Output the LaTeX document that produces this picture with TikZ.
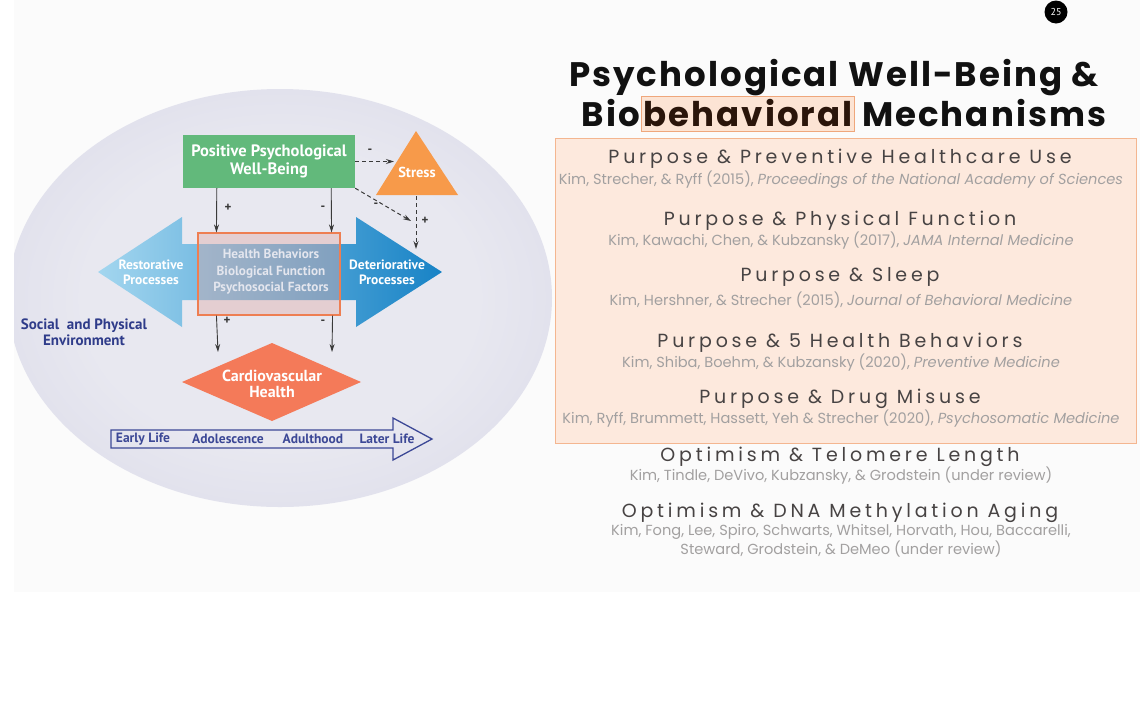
\documentclass[tikz,border=0pt]{standalone}
\usepackage{fontspec}
\setmainfont{Poppins}
\newfontfamily\diag{PT Sans}
\newfontfamily\ttlfont{Poppins}[LetterSpace=6]
\newfontfamily\hdfont{Poppins}[LetterSpace=20]
\newfontfamily\citfont{Poppins}
\usetikzlibrary{arrows.meta,calc}
\definecolor{slidebg}{HTML}{FBFBFB}
\definecolor{ellin}{HTML}{E8E8F0}
\definecolor{ellmid}{HTML}{D5D5E6}
\definecolor{ellout}{HTML}{BEBED7}
\definecolor{ellrim}{HTML}{D0D0E2}
\definecolor{pgreen}{HTML}{62B97B}
\definecolor{stressc}{HTML}{F79A4A}
\definecolor{coral}{HTML}{F47A59}
\definecolor{navy}{HTML}{2F3C8A}
\definecolor{tline}{HTML}{3C4896}
\definecolor{blueL}{HTML}{A3D6EF}
\definecolor{blueR}{HTML}{1883C6}
\definecolor{midborder}{HTML}{EE7E52}
\definecolor{midfill}{HTML}{E0A8A4}
\definecolor{midtext}{HTML}{E4E6EE}
\definecolor{arrowc}{HTML}{3A3A3A}
\definecolor{panelfill}{HTML}{FDE9DD}
\definecolor{panelborder}{HTML}{F4B690}
\definecolor{hlfill}{HTML}{FCE4D4}
\definecolor{hlborder}{HTML}{EFA77C}
\definecolor{hdcol}{HTML}{474343}
\definecolor{citcol}{HTML}{A2A0A0}
\definecolor{titlecol}{HTML}{111111}
\definecolor{hltext}{HTML}{2A150A}
\pgfdeclareradialshading{ellshade}{\pgfpoint{0bp}{0bp}}{color(0bp)=(ellin); color(18bp)=(ellin); color(40bp)=(ellmid); color(48bp)=(ellout); color(50bp)=(ellrim); color(70bp)=(ellrim)}
\tikzset{
  wlabel/.style={text=white, font=\diag\bfseries\fontsize{13.5}{15}\selectfont, align=center, inner sep=0},
  navylabel/.style={text=navy, font=\diag\bfseries\fontsize{15}{16.5}\selectfont, align=center, inner sep=0},
  tlabel/.style={text=tline, font=\diag\bfseries\fontsize{13.5}{15}\selectfont, inner sep=0},
  sign/.style={text=arrowc, font=\diag\bfseries\fontsize{13}{14}\selectfont, inner sep=0},
  solidarrow/.style={draw=arrowc, line width=0.9pt, -{Stealth[length=8pt,width=5pt]}},
  dasharrow/.style={draw=arrowc, line width=1pt, dash pattern=on 4pt off 3pt, -{Stealth[length=8pt,width=5pt]}},
  titletext/.style={text=titlecol, font=\ttlfont\bfseries\fontsize{34}{38}\selectfont, inner sep=0},
  headtext/.style={text=hdcol, font=\hdfont\fontsize{19}{21}\selectfont, inner sep=0},
  cittext/.style={text=citcol, font=\citfont\fontsize{14.6}{18.5}\selectfont, align=center, inner sep=0},
}
\begin{document}
\begin{tikzpicture}[x=1pt,y=-1pt]
\useasboundingbox (0,0) rectangle (1140,702);
\fill[white] (0,0) rectangle (1140,702);
\fill[slidebg] (14,0) rectangle (1140,592);
% ellipse background
\begin{scope}
  \clip (14,0) rectangle (1140,702);
  \shade[shading=ellshade] (280,298) ellipse [x radius=272, y radius=209];
\end{scope}
% badge
\node[circle, fill=black, minimum size=23pt, inner sep=0, text=white, font=\diag\fontsize{10}{11}\selectfont] (badge) at (1056,12) {25};

% ---------- left diagram ----------
\node[fill=pgreen, minimum width=172pt, minimum height=53pt, text=white, align=center,
      font=\diag\bfseries\fontsize{16.5}{18}\selectfont, inner sep=0] (ppwb) at (269,161.5) {Positive Psychological\\Well-Being};
\fill[stressc] (376,195) -- (416,131) -- (458,195) -- cycle;
\node[wlabel, font=\diag\bfseries\fontsize{14.5}{16}\selectfont] (stress) at (417,172) {Stress};
\coordinate (stressin) at (394,161.5);
\coordinate (stressbot) at (416,196);
\coordinate (vend) at (416,249);
\coordinate (diagend) at (411,221);

% double arrow
\path[left color=blueL, right color=blueR]
  (98,272) -- (182,217) -- (182,244) -- (356,244) -- (356,217) -- (442,272)
  -- (356,327) -- (356,300) -- (182,300) -- (182,327) -- cycle;
\node[wlabel] (rest) at (151,272) {Restorative\\Processes};
\node[wlabel] (det) at (387,272) {Deteriorative\\Processes};

% middle box
\node[draw=midborder, line width=1.1pt, fill=midfill, fill opacity=0.4, draw opacity=1,
      minimum width=142pt, minimum height=82pt, inner sep=0] (mid) at (269,274) {};
\node[text=midtext, font=\diag\bfseries\fontsize{13.2}{16.5}\selectfont, align=center, inner sep=0] (midtext) at (271,272)
  {Health Behaviors\\Biological Function\\Psychosocial Factors};

% diamond
\fill[coral] (272,343) -- (361,382) -- (272,421) -- (182,382) -- cycle;
\node[wlabel, font=\diag\bfseries\fontsize{16}{16}\selectfont] (cvh) at (272,384) {Cardiovascular\\Health};
\coordinate (cvhL) at (218,352);
\coordinate (cvhR) at (332,352);

% connectors
\draw[solidarrow] ([xshift=34pt]ppwb.south west) -- ([xshift=19pt]mid.north west);
\draw[solidarrow] ([xshift=-24pt]ppwb.south east) -- ([xshift=-9pt]mid.north east);
\draw[solidarrow] ([xshift=19pt]mid.south west) -- (cvhL);
\draw[solidarrow] ([xshift=-8pt]mid.south east) -- (cvhR);
\draw[dasharrow] (ppwb.east) -- (stressin);
\draw[dasharrow] (ppwb.south east) -- (diagend);
\draw[dasharrow] (stressbot) -- (vend);

\node[sign] at (228,208) {+};
\node[sign] at (323,208) {-};
\node[sign] at (227,321) {+};
\node[sign] at (323,322) {-};
\node[sign] at (370,151) {-};
\node[sign] at (376,205) {-};
\node[sign] at (425,221) {+};

% environment label
\node[navylabel] (env) at (84,332) {Social\ \ and Physical\\Environment};

% timeline
\draw[tline, line width=1.3pt, line join=miter]
  (111,430) -- (393,430) -- (393,418) -- (432,439) -- (393,460) -- (393,448) -- (111,448) -- cycle;
\node[tlabel] (early) at (143,439) {Early Life};
\node[tlabel] (adol) at (228,439) {Adolescence};
\node[tlabel] (adult) at (313,439) {Adulthood};
\node[tlabel] (later) at (387,439) {Later Life};

% ---------- right side ----------
\node[titletext] (t1) at (834,78) {Psychological Well-Being \&};
\node[titletext, fill=hlfill, draw=hlborder, line width=0.8pt, inner xsep=2pt, minimum height=35pt, text=hltext] (hb) at (748,113.5) {behavioral};
\node[titletext, anchor=base east] (bio) at ([xshift=-1pt]hb.base west) {Bio};
\node[titletext, anchor=base west] (mech) at ([xshift=7pt]hb.base east) {Mechanisms};

\node[draw=panelborder, fill=panelfill, line width=1pt, minimum width=581pt, minimum height=305pt, inner sep=0] (panel) at (845.5,290.5) {};

\node[headtext] (h1) at (840,159) {Purpose \& Preventive Healthcare Use};
\node[cittext] (c1) at (841,180) {Kim, Strecher, \& Ryff (2015), \textit{Proceedings of the National Academy of Sciences}};
\node[headtext] (h2) at (840,221) {Purpose \& Physical Function};
\node[cittext] (c2) at (841,241) {Kim, Kawachi, Chen, \& Kubzansky (2017), \textit{JAMA Internal Medicine}};
\node[headtext] (h3) at (840,277) {Purpose \& Sleep};
\node[cittext] (c3) at (841,300) {Kim, Hershner, \& Strecher (2015), \textit{Journal of Behavioral Medicine}};
\node[headtext] (h4) at (840,343) {Purpose \& 5 Health Behaviors};
\node[cittext] (c4) at (841,363) {Kim, Shiba, Boehm, \& Kubzansky (2020), \textit{Preventive Medicine}};
\node[headtext] (h5) at (840,399) {Purpose \& Drug Misuse};
\node[cittext] (c5) at (841,419) {Kim, Ryff, Brummett, Hassett, Yeh \& Strecher (2020), \textit{Psychosomatic Medicine}};
\node[headtext] (h6) at (840,457) {Optimism \& Telomere Length};
\node[cittext] (c6) at (841,476) {Kim, Tindle, DeVivo, Kubzansky, \& Grodstein (under review)};
\node[headtext] (h7) at (840,513) {Optimism \& DNA Methylation Aging};
\node[cittext] (c7) at (841,541) {Kim, Fong, Lee, Spiro, Schwarts, Whitsel, Horvath, Hou, Baccarelli,\\Steward, Grodstein, \& DeMeo (under review)};
\end{tikzpicture}
\end{document}
